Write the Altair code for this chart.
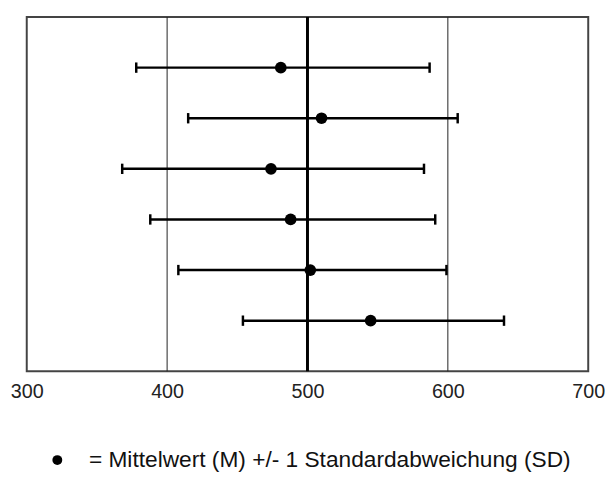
import altair as alt
import pandas as pd

# ---- data ----
rows = [1, 2, 3, 4, 5, 6]
means = [481, 510, 474, 488, 502, 545]
lows = [378, 415, 368, 388, 408, 454]
highs = [587, 607, 583, 591, 599, 640]
x_ticks = [300, 400, 500, 600, 700]
grid_thin = [400, 600]
grid_thick = [500]
legend_label = "= Mittelwert (M) +/- 1 Standardabweichung (SD)"

df = pd.DataFrame({"row": rows, "mean": means, "low": lows, "high": highs})
thin_df = pd.DataFrame({"x": grid_thin})
thick_df = pd.DataFrame({"x": grid_thick})
caps_df = pd.DataFrame({"x": lows + highs, "row": rows + rows})

FONT = "Liberation Sans, Arial"
W, H = 569, 359

xscale = alt.Scale(domain=[300, 700], nice=False, zero=False)
yscale = alt.Scale(domain=[0, 7], nice=False, zero=False, reverse=True)

xaxis = alt.Axis(values=x_ticks, grid=False, ticks=False, domain=False,
                 labelFontSize=20, labelColor="#222", labelFont=FONT,
                 labelPadding=11, title=None, labelFlush=False)

thin = alt.Chart(thin_df).mark_rule(color="#222", strokeWidth=1).encode(
    x=alt.X("x:Q", scale=xscale, axis=xaxis)
)
thick = alt.Chart(thick_df).mark_rule(color="#000", strokeWidth=3).encode(
    x=alt.X("x:Q", scale=xscale)
)

bars = alt.Chart(df).mark_rule(color="#000", strokeWidth=2.5).encode(
    x=alt.X("low:Q", scale=xscale),
    x2="high:Q",
    y=alt.Y("row:Q", scale=yscale, axis=None),
)

caps = alt.Chart(caps_df).mark_point(
    shape="M0,-1L0,1", size=110, filled=False, color="#000",
    strokeWidth=2.5, opacity=1
).encode(
    x=alt.X("x:Q", scale=xscale),
    y=alt.Y("row:Q", scale=yscale, axis=None),
)

dots = alt.Chart(df).mark_circle(size=140, color="#000", opacity=1).encode(
    x=alt.X("mean:Q", scale=xscale),
    y=alt.Y("row:Q", scale=yscale, axis=None),
)

leg_df = pd.DataFrame({"label": [legend_label]})
leg_dot = alt.Chart(leg_df).mark_circle(size=100, color="#000", opacity=1).encode(
    x=alt.value(31), y=alt.value(449)
)
leg_text = alt.Chart(leg_df).mark_text(
    align="left", baseline="middle", fontSize=23, font=FONT, color="#111"
).encode(
    x=alt.value(63), y=alt.value(449), text="label:N"
)

chart = alt.layer(thin, thick, bars, caps, dots, leg_dot, leg_text).properties(
    width=W, height=H,
    background="white",
    autosize=alt.AutoSizeParams(type="none"),
    padding={"left": 19, "top": 6, "right": 17, "bottom": 104},
).configure_view(stroke="#444", strokeWidth=2)

chart.save("out.html", embed_options={"renderer": "svg", "actions": False})
